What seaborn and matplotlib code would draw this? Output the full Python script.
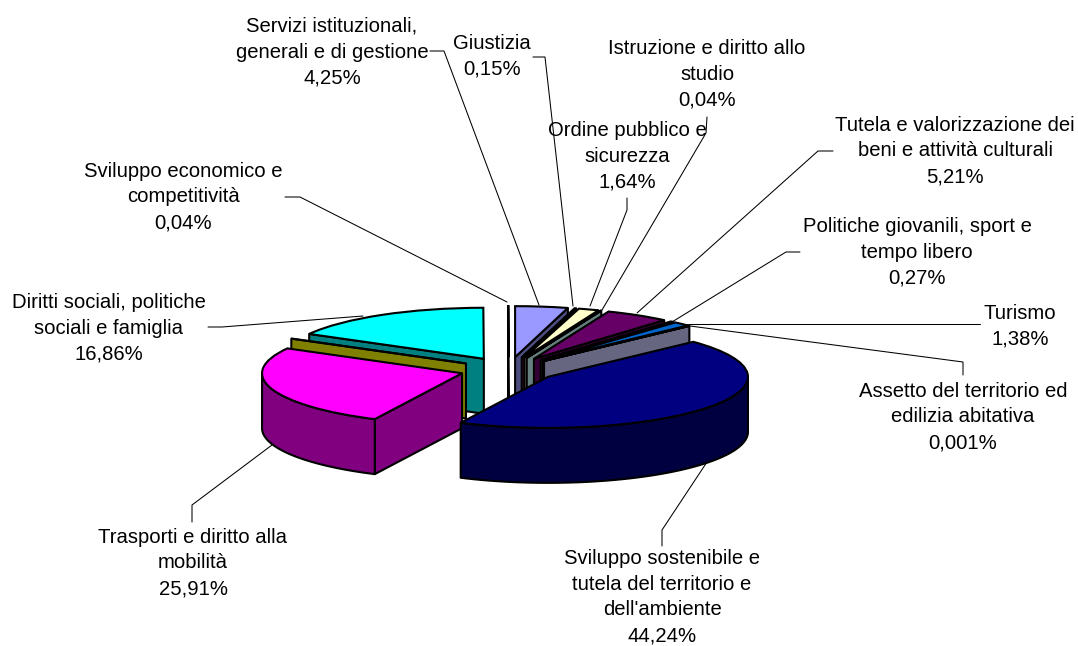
import numpy as np
import matplotlib.pyplot as plt
from matplotlib.colors import to_rgb
import seaborn as sns

# clockwise from 12 o'clock, the empty name is a slice with no label in the original
names = ['Servizi istituzionali,\ngenerali e di gestione', 'Giustizia',
         'Ordine pubblico e\nsicurezza', 'Istruzione e diritto allo\nstudio',
         'Tutela e valorizzazione dei\nbeni e attività culturali',
         'Politiche giovanili, sport e\ntempo libero', 'Turismo',
         'Assetto del territorio ed\nedilizia abitativa',
         "Sviluppo sostenibile e\ntutela del territorio e\ndell'ambiente",
         'Trasporti e diritto alla\nmobilità', '',
         'Diritti sociali, politiche\nsociali e famiglia',
         'Sviluppo economico e\ncompetitività']
values = [4.25, 0.15, 1.64, 0.04, 5.21, 0.27, 1.38, 0.001, 44.24, 25.91, 0.0, 16.86, 0.04]
colors = ['#9999FF', '#993366', '#FFFFCC', '#CCFFFF', '#660066', '#FF8080', '#0066CC',
          '#CCCCFF', '#000080', '#FF00FF', '#FFFF00', '#00FFFF', '#800080']

# label centre and leader line in pixels of the picture
label_pos = [(332, 52), (492, 56), (627, 156), (707, 74), (955, 151), (917, 252), (1020, 326),
             (963, 417), (662, 597), (193, 563), None, (109, 328), (183, 197)]
leaders = [[(430, 51), (444, 51), (539, 305)], [(533, 57), (545, 57), (573, 306)],
           [(627, 198), (627, 210), (590, 306)], [(707, 117), (706, 133), (602, 310)],
           [(833, 151), (818, 151), (637, 313)], [(800, 252), (786, 252), (672, 322)],
           [(980, 324), (972, 324), (688, 324)], [(963, 375), (963, 362), (690, 326)],
           [(662, 546), (662, 530), (707, 462)], [(192, 522), (192, 505), (272, 445)],
           None, [(208, 327), (222, 327), (363, 316)], [(285, 197), (300, 197), (507, 302)]]

W, H = 1078, 646
CX, CY = 508.6, 369.5   # pie centre
RX, RY = 200, 51        # ellipse half axes
DEPTH = 55 / RY
LW = 1.5

sns.set_theme(style='white')
plt.rcParams['font.family'] = ['Liberation Sans', 'DejaVu Sans']

fig = plt.figure(figsize=(W / 100, H / 100), dpi=100)
ax = fig.add_axes([0, 0, 1, 1])

wedges, _ = ax.pie(values, colors=sns.color_palette(colors, len(colors)), explode=[0.244] * len(values),
                   startangle=90, counterclock=False, radius=1,
                   wedgeprops=dict(edgecolor='black', linewidth=LW))
ax.set_aspect('auto')
ax.set_xlim(-CX / RX, (W - CX) / RX)
ax.set_ylim(-(H - CY) / RY, CY / RY)
ax.axis('off')


def draw_side(ax, pts, color, z):
    pts = np.array(pts)
    down = pts[::-1] - [0, DEPTH]
    ax.fill(np.r_[pts[:, 0], down[:, 0]], np.r_[pts[:, 1], down[:, 1]], facecolor=color,
            edgecolor='black', linewidth=LW, zorder=z, joinstyle='round')


# paint from the back of the picture to the front
order = sorted(range(len(wedges)), key=lambda i: -wedges[i].center[1])
for n, i in enumerate(order):
    w = wedges[i]
    z = 2 + n
    side = tuple(c / 2 for c in to_rgb(colors[i]))
    cx, cy = w.center
    t_lo, t_hi = np.radians(w.theta1), np.radians(w.theta2)
    # cut faces, only when they look at the viewer
    if np.cos(t_hi) < 0:
        draw_side(ax, [(cx, cy), (cx + np.cos(t_hi), cy + np.sin(t_hi))], side, z)
    if np.cos(t_lo) > 0:
        draw_side(ax, [(cx, cy), (cx + np.cos(t_lo), cy + np.sin(t_lo))], side, z)
    # outer rim, the part on the lower half of the ellipse
    t = np.linspace(t_lo, t_hi, 300)
    t = t[np.sin(t) < 0]
    if len(t) > 1:
        draw_side(ax, np.c_[cx + np.cos(t), cy + np.sin(t)], side, z)
    w.set_zorder(z + 0.5)

# labels and leader lines go on a pixel overlay
over = fig.add_axes([0, 0, 1, 1], facecolor='none')
over.set_xlim(0, W)
over.set_ylim(H, 0)
over.axis('off')

for name, val, pos, line in zip(names, values, label_pos, leaders):
    if pos is None:
        continue
    over.plot(*zip(*line), color='black', lw=0.75, solid_joinstyle='miter')
    txt = name + '\n' + str(val).replace('.', ',') + '%'
    over.text(pos[0], pos[1], txt, ha='center', va='center', fontsize=14.6, color='black',
              linespacing=1.46, multialignment='center', zorder=5)

fig.savefig('out.png', dpi=100)
